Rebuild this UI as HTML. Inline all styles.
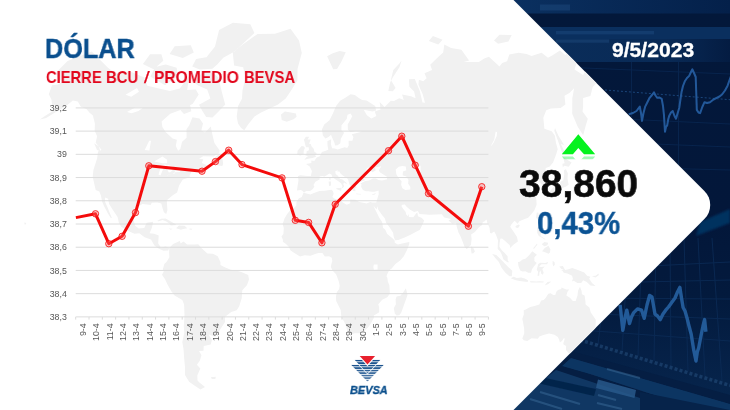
<!DOCTYPE html>
<html lang="es">
<head>
<meta charset="utf-8">
<title>Dólar - Cierre BCU / Promedio BEVSA</title>
<style>
  html, body { margin: 0; padding: 0; }
  body {
    width: 730px; height: 410px; overflow: hidden; position: relative;
    background: #03183a;
    font-family: "Liberation Sans", sans-serif;
  }
  #stage { position: absolute; left: 0; top: 0; width: 730px; height: 410px; overflow: hidden; }
  #bg { position: absolute; left: 0; top: 0; width: 730px; height: 410px; }
  #panel { position: absolute; left: 0; top: 0; width: 730px; height: 410px; }
  .txt { position: absolute; white-space: nowrap; line-height: 1; margin: 0; will-change: transform; }
  #title { left: 45.18px; top: 34.95px; font-size: 28px; font-weight: bold; color: #0a4f8e; transform-origin: 0 0; transform: scaleX(0.9025); -webkit-text-stroke: 0.45px #0a4f8e; }
  .sub { top: 69.1px; font-size: 17px; font-weight: bold; color: #e2061c; transform-origin: 0 0; }
  #w1 { left: 46.23px; transform: scaleX(0.8668); }
  #w2 { left: 106.49px; transform: scaleX(0.8739); }
  #w3 { left: 143.64px; transform: scaleX(1.1916); font-weight: normal; -webkit-text-stroke: 0.25px #e2061c; }
  #w4 { left: 154.43px; transform: scaleX(0.9179); }
  #w5 { left: 243.79px; transform: scaleX(0.8725); }
  #date { left: 611.75px; top: 40.5px; font-size: 19.5px; font-weight: bold; color: #ffffff; transform-origin: 0 0; transform: scaleX(1.0827); -webkit-text-stroke: 0.3px #ffffff; }
  #value { left: 519.23px; top: 164.1px; font-size: 39px; font-weight: bold; color: #0a0a0a; transform-origin: 0 0; transform: scaleX(0.9987); -webkit-text-stroke: 0.6px #0a0a0a; }
  #pct { left: 536.92px; top: 208.1px; font-size: 31px; font-weight: bold; color: #0b5394; transform-origin: 0 0; transform: scaleX(0.9477); -webkit-text-stroke: 0.4px #0b5394; }
  #brand { left: 349.94px; top: 385.35px; font-size: 11.5px; font-weight: bold; font-style: italic; color: #0b4f8c; transform-origin: 0 0; transform: scaleX(0.9502); -webkit-text-stroke: 0.35px #0b4f8c; }
  #chart { position: absolute; left: 0; top: 0; width: 730px; height: 410px; will-change: transform; }
  #chart text { font-family: "Liberation Sans", sans-serif; font-size: 8.8px; fill: #575757; }
</style>
</head>
<body>
<div id="stage">

<!-- dark background with market-screen look -->
<svg id="bg" width="730" height="410" viewBox="0 0 730 410">
  <defs>
    <linearGradient id="bgg" x1="0" y1="0" x2="0" y2="1">
      <stop offset="0" stop-color="#03183a"/>
      <stop offset="0.54" stop-color="#03173a"/>
      <stop offset="0.72" stop-color="#031a3d"/>
      <stop offset="0.86" stop-color="#052046"/>
      <stop offset="1" stop-color="#07264e"/>
    </linearGradient>
    <linearGradient id="fadeR" x1="0" y1="0" x2="1" y2="0">
      <stop offset="0" stop-color="#0b3161"/>
      <stop offset="1" stop-color="#04204a"/>
    </linearGradient>
    <linearGradient id="fadeR2" x1="0" y1="0" x2="1" y2="0">
      <stop offset="0" stop-color="#0a2e5b"/>
      <stop offset="0.72" stop-color="#092a56"/>
      <stop offset="1" stop-color="#041c42"/>
    </linearGradient>
    <filter id="soft" x="-5%" y="-5%" width="110%" height="110%"><feGaussianBlur stdDeviation="0.6"/></filter>
    <filter id="soft2" x="-5%" y="-5%" width="110%" height="110%"><feGaussianBlur stdDeviation="1.2"/></filter>
  </defs>
  <rect x="0" y="0" width="730" height="410" fill="url(#bgg)"/>
  <!-- top bands -->
  <rect x="500" y="0" width="230" height="13.5" fill="url(#fadeR)"/>
  <rect x="500" y="39" width="230" height="23" fill="url(#fadeR2)"/>
  <rect x="500" y="27" width="230" height="12" fill="#0a2f5e"/>
  <!-- faint header text lines -->
  <g fill="#2b5b93" opacity="0.3" filter="url(#soft)">
    <rect x="540" y="4.5" width="30" height="6"/>
    <rect x="556" y="31" width="98" height="3.4"/>
    <rect x="556" y="39.5" width="53" height="3.2"/>
  </g>
  <!-- grid (upper) -->
  <g stroke="#08244d" stroke-width="1" fill="none">
    <line x1="560" y1="67" x2="730" y2="74"/>
    <line x1="600" y1="118" x2="730" y2="124"/>
    <line x1="630" y1="143" x2="730" y2="147"/>
    <line x1="650" y1="168" x2="730" y2="170"/>
    <line x1="678.5" y1="62" x2="678.5" y2="200"/>
    <line x1="631.5" y1="62" x2="631.5" y2="117"/>
  </g>
  <line x1="605" y1="90" x2="730" y2="99.7" stroke="#1a457a" stroke-width="1" stroke-dasharray="2 2"/>
  <polyline points="628.8,114.3 633.0,113.0 636.5,111.0 639.8,106.6 641.0,113.0 642.0,120.9 643.5,113.0 645.2,106.6 647.5,102.0 649.6,97.8 652.0,95.0 654.0,92.3 655.5,95.5 657.3,97.8 659.5,97.5 661.7,98.9 663.0,106.0 663.9,114.3 665.0,131.8 666.0,127.0 667.2,125.3 668.3,119.0 669.4,115.4 671.0,112.5 672.7,111.0 674.5,116.0 676.0,118.7 677.7,113.0 679.3,107.7 680.5,99.0 681.5,92.3 683.0,86.0 684.8,81.3 687.0,78.0 689.2,75.9 691.0,72.0 692.4,69.3 694.0,73.0 695.7,77.0 696.3,94.0 696.8,109.9 698.5,112.5 700.1,113.2 702.3,107.0 704.5,102.2 707.0,103.0 710.0,102.2 713.5,99.5 716.6,97.8 719.5,96.5 722.0,94.5 725.0,90.5 727.6,85.7 731.0,76.0" fill="none" stroke="#24599a" stroke-width="2" stroke-linejoin="round" filter="url(#soft)"/>
  <!-- mid highlight band -->
  <polygon points="700,222 730,209 730,223 696,236" fill="#06305f" filter="url(#soft2)"/>
  <!-- lower screen grid -->
  <g stroke="#0c2c57" stroke-width="1" fill="none" opacity="0.8">
    <line x1="610" y1="268" x2="730" y2="262"/>
    <line x1="596" y1="283" x2="730" y2="280"/>
    <line x1="582" y1="298" x2="730" y2="299"/>
    <line x1="568" y1="313" x2="730" y2="319"/>
    <line x1="554" y1="328" x2="730" y2="341"/>
    <line x1="628" y1="250" x2="622" y2="352"/>
    <line x1="642" y1="240" x2="638" y2="356"/>
    <line x1="656" y1="238" x2="654" y2="361"/>
    <line x1="670" y1="238" x2="671" y2="366"/>
    <line x1="684" y1="238" x2="688" y2="371"/>
    <line x1="698" y1="238" x2="705" y2="376"/>
    <line x1="712" y1="238" x2="722" y2="381"/>
    <line x1="606" y1="275" x2="598" y2="345"/>
  </g>
  <polyline points="620.1,304.9 621.5,318.0 622.8,330.3 625.0,318.0 626.8,310.2 629.5,323.6 631.5,317.0 633.5,312.9 637.5,308.9 641.6,310.2 644.2,318.3 647.0,305.0 649.6,295.5 652.0,297.0 655.0,314.2 657.5,316.0 660.3,319.6 663.0,314.0 665.7,310.2 668.5,307.0 671.0,303.5 675.0,298.0 677.5,292.0 679.9,287.4 681.5,298.0 683.1,307.5 685.0,311.0 687.1,318.3 689.0,326.0 691.2,334.3 693.8,350.4 696.0,361.0 697.3,352.0 698.7,347.7 701.3,334.3 703.0,326.0 704.6,319.6 705.9,331.7" fill="none" stroke="#235a98" stroke-width="3.4" stroke-linejoin="round" filter="url(#soft)"/>
  <!-- axis numbers row (tilted) -->
  <line x1="580" y1="340" x2="730" y2="385.5" stroke="#3f73a8" stroke-width="3.5" stroke-dasharray="3 2.2" opacity="0.3" filter="url(#soft)"/>
  <!-- bottom window -->
  <polygon points="560,348 730,395 730,410 500,410" fill="#051e43"/>
  <polygon points="571,358 730,404 730,410 700,410 590,374 562,366" fill="#0f3866" opacity="0.9" filter="url(#soft)"/>
  <polygon points="556,370 640,398 640,410 505,410" fill="#123a67" opacity="0.9"/>
  <polygon points="541,377 596,389 594,396 537,383" fill="#06244a" opacity="0.9" filter="url(#soft)"/>
  <polygon points="598,379.5 636,390 634.5,398 596,388" fill="#2c5c8e" opacity="0.8" filter="url(#soft)"/>
  <polygon points="640,392 730,410 640,410" fill="#06234a"/>
  <g stroke="#41729f" stroke-width="2" opacity="0.45" filter="url(#soft)">
    <line x1="607" y1="369" x2="640" y2="378"/>
    <line x1="598" y1="395" x2="616" y2="400"/>
    <line x1="597" y1="403" x2="622" y2="409"/>
    <line x1="540" y1="392" x2="580" y2="404"/>
    <line x1="530" y1="399" x2="562" y2="409"/>
  </g>
</svg>

<!-- white panel (rotated rounded square) with world map -->
<svg id="panel" width="730" height="410" viewBox="0 0 730 410">
  <defs>
    <clipPath id="panelclip">
      <path d="M-5,-5 L508.5,-5 L704.4,190.9 A20,20 0 0 1 704.4,219.1 L508.5,415 L-5,415 Z"/>
    </clipPath>
  </defs>
  <path d="M-5,-5 L508.5,-5 L704.4,190.9 A20,20 0 0 1 704.4,219.1 L508.5,415 L-5,415 Z" fill="#ffffff"/>
  <g id="worldmap" clip-path="url(#panelclip)">
    <path fill="#f1f1f1" d="M56.1,72.6 L67.6,61.0 L91.7,51.6 L108.0,67.7 L115.0,73.2 L130.9,71.8 L144.3,77.4 L147.4,85.7 L157.9,88.3 L169.9,90.9 L179.8,88.5 L189.1,76.2 L187.2,90.0 L195.8,89.5 L198.7,94.4 L192.8,103.7 L181.1,109.7 L170.3,113.7 L161.6,121.6 L162.4,126.9 L165.8,132.3 L172.6,138.4 L176.9,139.8 L175.8,146.0 L178.1,150.8 L180.3,149.0 L182.1,141.8 L186.6,137.7 L186.5,129.2 L189.3,125.3 L192.5,117.3 L199.5,118.5 L203.0,123.4 L201.3,130.5 L205.0,132.4 L210.8,126.6 L212.6,135.6 L214.4,143.1 L219.7,150.5 L219.2,153.2 L213.5,156.4 L203.1,156.3 L199.1,158.8 L203.3,159.3 L201.8,162.9 L208.3,165.8 L209.8,167.2 L203.1,170.6 L198.2,172.9 L197.0,169.6 L191.3,172.1 L189.4,176.2 L190.4,177.0 L182.8,179.4 L179.1,185.5 L177.1,192.5 L173.1,194.9 L166.8,200.2 L167.4,210.2 L166.2,214.1 L163.9,212.3 L162.5,207.9 L161.3,203.4 L157.3,202.6 L151.8,202.7 L150.6,204.9 L146.9,204.6 L142.4,204.0 L136.3,207.7 L134.6,213.9 L133.4,219.4 L135.2,225.8 L138.7,228.6 L144.3,228.0 L146.6,222.8 L153.2,221.8 L151.8,228.1 L149.5,233.3 L154.1,233.7 L158.7,235.4 L158.2,243.5 L160.9,247.4 L165.6,246.5 L169.3,248.1 L168.2,250.4 L163.6,250.8 L159.0,248.8 L154.4,245.4 L151.0,239.4 L144.6,237.3 L139.3,233.2 L134.5,233.8 L128.2,231.0 L121.2,226.7 L118.8,222.4 L117.6,216.9 L112.9,210.0 L109.1,204.1 L108.1,198.8 L105.2,197.5 L104.9,201.6 L107.6,207.6 L110.4,214.5 L111.9,217.9 L110.6,217.8 L107.8,213.3 L104.1,206.3 L102.1,201.5 L100.9,195.4 L99.3,191.6 L95.7,189.9 L94.3,184.1 L92.7,176.8 L93.4,169.9 L97.1,158.6 L98.0,151.4 L101.5,149.9 L99.0,146.5 L95.7,142.8 L97.1,136.3 L94.7,130.7 L94.9,123.4 L92.9,115.4 L89.6,112.7 L86.7,109.2 L80.7,106.6 L77.8,101.6 L72.9,100.4 L66.7,105.6 L61.5,108.7 L53.8,113.3 L46.2,117.9 L39.9,119.5 L45.3,115.7 L53.0,111.1 L56.7,105.4 L52.2,105.2 L51.4,99.6 L48.8,94.2 L52.0,85.2 L58.0,84.4 L63.7,81.0 L57.6,79.1Z M213.2,73.0 L218.4,77.6 L221.8,91.8 L225.2,104.5 L218.8,111.2 L212.5,117.6 L206.2,116.9 L202.4,110.9 L199.0,104.7 L210.4,98.4 L207.2,89.4 L198.1,85.4 L193.6,82.1 L203.1,71.8Z M150.3,76.4 L165.0,85.2 L177.8,75.9 L176.7,67.7 L165.7,64.5 L155.3,67.0Z M142.9,64.0 L153.6,69.3 L163.3,60.8 L161.4,54.2 L150.1,54.3Z M205.3,58.8 L217.2,64.6 L223.3,57.7 L234.5,51.6 L254.4,33.1 L250.3,24.2 L232.9,22.8 L219.1,30.1 L215.0,46.4Z M169.6,53.9 L182.8,58.1 L193.8,52.6 L190.8,45.2 L174.7,46.2Z M192.2,66.4 L199.8,69.4 L212.4,68.7 L217.2,64.6 L206.1,57.3 L196.1,59.1Z M212.3,162.9 L218.0,165.5 L222.3,166.0 L223.2,163.7 L222.5,159.3 L219.0,157.3 L220.1,153.3 L216.5,155.8Z M232.8,52.4 L243.1,44.2 L257.6,33.9 L275.0,33.8 L290.5,28.7 L299.0,40.4 L301.8,53.1 L297.5,68.9 L297.4,80.6 L290.8,90.9 L285.7,98.5 L278.0,104.5 L269.0,108.7 L260.6,112.7 L254.5,116.4 L248.3,124.2 L244.3,130.3 L241.1,127.9 L238.0,123.5 L236.7,116.6 L238.1,106.0 L242.0,98.7 L242.5,90.5 L245.4,77.5 L243.2,67.3 L234.1,65.6Z M281.0,114.6 L284.9,111.6 L290.8,112.6 L295.9,113.4 L296.6,116.8 L293.6,119.3 L286.7,121.7 L281.7,119.9Z M169.3,248.1 L173.1,244.1 L179.8,241.1 L180.6,243.5 L183.5,241.6 L187.1,244.5 L194.6,244.6 L198.3,244.2 L201.9,248.5 L207.4,253.4 L213.0,253.8 L217.7,256.3 L220.4,262.1 L220.4,265.0 L224.2,266.9 L230.7,269.8 L236.4,270.6 L242.0,272.3 L248.2,275.0 L249.0,279.5 L246.9,285.3 L242.3,290.2 L241.7,298.2 L239.2,306.2 L236.7,310.3 L231.2,312.0 L225.1,316.7 L225.0,322.0 L221.4,327.4 L217.5,334.1 L215.1,336.4 L211.3,335.4 L208.5,334.3 L211.9,339.9 L210.7,344.5 L203.7,345.9 L203.5,350.7 L199.0,350.9 L201.5,355.2 L199.8,360.8 L196.9,364.8 L200.3,368.5 L197.3,375.4 L197.5,380.4 L199.1,382.3 L205.0,387.0 L200.5,389.5 L194.4,385.6 L189.1,381.7 L185.0,374.9 L185.0,366.8 L184.1,357.8 L183.5,349.1 L182.3,342.0 L184.3,332.7 L183.8,326.0 L184.5,315.1 L184.1,304.6 L182.3,300.1 L174.6,295.5 L171.5,291.5 L167.5,284.5 L164.9,279.0 L162.0,274.7 L163.8,271.6 L162.8,269.4 L164.3,264.0 L166.5,262.1 L169.4,257.3 L169.1,252.4Z M297.0,190.4 L297.5,186.6 L298.5,180.3 L297.9,176.3 L300.0,175.2 L307.4,175.9 L310.9,175.9 L311.9,170.9 L309.7,166.6 L306.0,163.9 L311.4,163.1 L311.3,160.6 L314.3,161.1 L316.7,157.6 L319.9,156.3 L321.9,152.1 L325.7,150.8 L328.3,149.7 L327.5,145.3 L327.4,141.2 L331.2,139.2 L330.9,143.9 L332.1,148.3 L334.8,148.5 L337.6,149.5 L344.7,147.3 L347.2,148.0 L348.7,145.5 L348.6,140.8 L352.4,140.7 L353.4,136.9 L351.8,134.3 L358.9,132.6 L362.3,131.5 L355.5,130.9 L350.7,132.3 L347.9,129.7 L347.7,124.4 L352.3,116.2 L350.5,113.5 L347.5,114.7 L346.8,118.7 L341.5,125.3 L341.4,130.2 L344.1,132.8 L340.8,138.7 L340.3,143.2 L337.6,145.2 L335.1,145.5 L334.5,143.0 L332.1,137.4 L331.0,134.8 L328.5,136.9 L325.4,138.4 L322.9,135.5 L321.9,129.6 L324.2,124.4 L329.5,120.2 L332.9,113.5 L336.2,105.7 L340.2,100.8 L345.7,97.5 L350.6,94.2 L354.8,95.1 L358.8,97.9 L362.1,100.0 L366.6,100.4 L375.2,106.0 L376.1,110.6 L372.4,111.5 L366.1,110.2 L363.7,109.7 L366.9,115.3 L371.3,118.4 L376.4,116.0 L374.7,111.4 L380.5,109.5 L379.7,101.9 L384.6,107.0 L390.8,100.7 L394.0,101.1 L399.3,98.2 L403.7,100.0 L402.1,94.6 L411.0,96.2 L415.6,98.3 L414.1,91.6 L409.4,86.8 L408.9,79.2 L414.8,79.1 L419.7,90.7 L422.5,102.4 L425.0,102.8 L422.8,94.4 L418.4,84.4 L418.9,79.7 L423.2,81.2 L426.6,78.2 L424.5,73.3 L432.1,70.1 L430.2,64.7 L438.2,57.0 L443.2,52.6 L444.3,44.6 L451.1,48.1 L461.4,49.7 L469.1,60.5 L463.6,62.1 L469.3,62.1 L478.9,61.9 L484.2,58.5 L488.9,56.8 L499.5,66.6 L502.2,62.9 L507.1,61.2 L509.3,54.4 L518.6,52.8 L526.6,54.1 L531.5,56.0 L541.6,52.7 L548.0,57.7 L552.6,55.3 L559.9,50.4 L565.5,55.3 L569.1,47.9 L577.9,49.6 L577.8,59.3 L574.5,69.5 L583.1,75.0 L587.3,67.8 L591.0,70.6 L589.6,72.8 L598.5,80.9 L592.7,86.9 L590.4,96.0 L583.1,97.9 L583.1,107.0 L582.5,111.5 L587.8,118.8 L585.5,126.4 L583.2,135.2 L577.7,126.7 L572.2,113.8 L572.3,98.4 L574.1,88.3 L569.4,93.0 L564.5,95.8 L565.4,104.6 L560.6,107.9 L550.8,108.4 L546.3,110.2 L543.3,117.7 L544.4,128.8 L551.7,131.3 L554.8,135.4 L556.0,142.9 L557.7,149.3 L556.2,154.3 L553.1,162.4 L549.7,166.6 L545.8,168.1 L545.1,172.4 L542.0,176.3 L544.8,180.2 L547.5,184.0 L547.3,187.5 L543.2,189.8 L541.7,184.4 L538.6,181.1 L537.0,176.1 L531.9,178.4 L529.8,173.6 L525.2,178.8 L527.4,182.4 L534.3,182.7 L531.0,186.3 L529.7,189.0 L535.7,196.2 L536.4,199.9 L536.6,204.7 L534.3,210.6 L531.5,214.1 L528.2,217.8 L524.7,219.0 L519.3,221.3 L517.7,223.7 L514.6,220.7 L511.3,224.5 L510.2,226.7 L513.8,231.9 L517.0,237.1 L517.9,241.6 L513.7,244.5 L510.1,247.9 L509.8,245.3 L505.1,240.9 L502.0,238.4 L500.3,238.7 L499.6,243.3 L499.4,246.8 L501.8,250.3 L504.7,252.9 L507.6,256.3 L507.7,260.2 L509.0,262.3 L507.5,262.3 L503.5,259.6 L501.6,254.3 L500.2,251.5 L497.7,249.0 L497.8,244.4 L498.0,240.3 L495.9,234.6 L494.2,231.5 L491.2,233.6 L490.0,232.8 L489.6,228.0 L487.3,222.8 L486.6,219.6 L485.6,220.2 L484.3,221.4 L482.8,222.0 L482.1,225.0 L479.1,227.1 L474.9,231.9 L471.1,234.4 L471.6,239.1 L470.9,244.9 L468.0,247.7 L466.8,249.2 L464.4,246.5 L462.8,242.1 L460.6,236.5 L458.5,232.5 L456.8,227.0 L456.1,222.8 L452.3,223.7 L448.5,220.6 L451.4,219.1 L444.2,217.5 L441.8,214.3 L429.4,214.7 L419.5,214.0 L417.9,211.0 L414.2,211.9 L410.1,209.8 L406.4,206.5 L404.9,204.4 L402.2,204.8 L401.4,205.9 L402.9,208.5 L405.7,212.0 L406.1,214.3 L407.7,216.2 L408.4,213.7 L408.9,217.0 L413.3,217.2 L416.1,213.6 L417.3,212.5 L418.0,216.3 L421.8,218.1 L424.2,220.4 L422.5,224.5 L421.0,227.6 L419.7,230.0 L416.1,231.7 L411.0,234.5 L405.2,237.3 L398.2,240.1 L395.0,240.3 L393.6,236.2 L393.1,232.8 L389.9,227.8 L386.1,222.8 L384.8,218.3 L382.2,215.2 L378.2,209.4 L377.3,206.2 L376.6,209.6 L373.3,205.4 L372.5,202.5 L376.2,202.4 L377.2,199.2 L378.7,194.3 L378.6,190.5 L374.5,191.7 L371.6,191.8 L368.6,191.2 L365.9,191.2 L362.9,190.1 L361.1,186.8 L361.5,184.5 L360.4,183.4 L365.2,181.0 L369.2,180.5 L372.9,178.5 L375.9,178.4 L378.4,180.0 L382.0,180.6 L387.1,179.3 L386.9,176.7 L383.4,174.4 L380.2,172.4 L378.8,170.5 L381.3,166.2 L374.9,167.6 L375.7,170.6 L372.4,172.3 L370.4,170.2 L372.2,168.5 L368.8,167.6 L367.1,168.1 L365.4,171.1 L364.0,174.7 L363.0,177.5 L364.9,180.3 L360.1,182.0 L356.4,181.6 L355.6,183.0 L354.1,182.6 L355.3,185.3 L356.7,187.5 L355.0,188.2 L355.5,191.3 L354.0,191.1 L352.8,190.7 L351.7,187.6 L349.4,184.2 L348.2,180.1 L347.4,178.5 L342.8,175.5 L340.5,173.6 L339.2,171.3 L337.6,171.8 L337.7,170.3 L335.3,171.3 L335.6,173.9 L337.9,175.8 L340.0,179.0 L342.1,179.3 L346.7,183.1 L346.6,184.0 L344.0,182.5 L343.2,184.3 L344.3,185.9 L342.8,188.1 L341.9,188.1 L342.4,185.9 L341.0,183.2 L338.7,181.6 L335.6,179.5 L332.4,177.0 L331.4,174.4 L329.3,173.5 L327.1,174.9 L324.5,176.6 L322.2,175.9 L319.6,176.4 L319.6,179.4 L315.4,181.7 L313.5,184.9 L314.4,186.5 L312.8,189.1 L310.1,190.9 L306.1,191.1 L304.0,192.7 L302.6,190.9 L300.8,190.0Z M373.3,205.4 L372.5,202.5 L370.2,202.1 L366.6,203.4 L359.3,202.0 L355.5,199.8 L350.1,199.5 L350.3,203.3 L346.7,204.8 L342.1,202.1 L341.1,200.4 L334.7,198.7 L332.4,197.0 L333.7,193.7 L332.8,190.9 L331.5,189.8 L324.7,190.7 L319.4,190.9 L314.0,193.1 L310.4,194.6 L304.5,193.1 L303.4,193.1 L301.8,197.0 L298.7,198.5 L296.4,202.3 L296.4,205.5 L293.0,209.1 L290.3,210.3 L287.5,213.4 L284.6,218.3 L282.6,224.0 L283.8,228.0 L283.4,233.9 L281.5,236.5 L282.9,239.8 L282.9,241.8 L286.0,244.1 L288.8,246.7 L290.6,250.5 L294.4,252.9 L300.0,256.5 L304.7,255.2 L310.3,255.8 L315.9,253.8 L318.7,252.9 L322.4,253.0 L324.8,256.5 L329.0,256.3 L331.8,257.7 L332.3,261.1 L331.4,264.0 L330.8,266.9 L332.7,270.8 L336.1,274.2 L337.0,276.6 L338.8,281.4 L339.7,285.7 L339.1,289.2 L336.9,292.1 L335.9,297.1 L336.2,301.0 L338.7,306.0 L340.7,310.1 L341.4,317.2 L344.1,321.6 L346.3,326.7 L347.1,329.9 L347.1,333.5 L349.9,334.9 L354.5,333.2 L360.3,333.2 L363.6,331.5 L368.4,326.9 L371.4,322.6 L374.0,317.4 L373.8,315.4 L379.2,312.3 L379.1,307.2 L378.3,304.2 L382.2,299.8 L387.3,297.2 L389.9,293.8 L389.6,289.3 L389.4,285.3 L387.8,281.4 L387.4,278.1 L386.5,276.2 L387.3,274.1 L389.2,270.2 L391.7,268.5 L395.4,264.0 L400.1,260.6 L403.8,256.3 L407.0,249.9 L409.1,244.6 L409.4,242.1 L404.4,243.1 L397.9,244.6 L394.7,242.7 L394.7,240.7 L393.1,238.8 L389.3,235.8 L387.0,233.8 L385.3,229.8 L383.0,227.8 L382.5,223.8 L382.0,221.8 L379.4,217.9 L377.2,213.6 L375.3,209.8Z M405.9,288.3 L407.5,294.9 L406.4,298.3 L404.2,304.3 L401.3,312.5 L399.3,315.2 L396.5,315.6 L394.8,313.5 L393.8,308.3 L395.9,304.3 L395.6,299.2 L396.6,296.6 L400.4,295.8 L403.3,292.3Z M304.3,159.8 L308.1,158.8 L312.3,158.1 L316.2,156.8 L315.2,155.8 L316.8,152.9 L314.5,152.1 L313.7,148.7 L311.5,146.2 L310.7,144.0 L309.1,143.8 L310.7,139.6 L307.5,139.6 L309.2,136.7 L305.9,136.7 L303.9,139.8 L304.7,142.6 L305.4,145.4 L306.1,147.3 L308.7,147.3 L309.0,150.3 L306.7,151.3 L306.5,153.4 L305.2,155.2 L308.1,156.3 L306.4,157.3Z M297.2,154.7 L297.6,150.7 L299.9,148.1 L301.6,145.9 L304.1,146.5 L304.9,148.1 L303.7,150.8 L303.6,154.2 L300.5,155.5Z M552.0,197.2 L553.6,192.8 L554.4,190.2 L558.7,188.6 L562.2,187.9 L565.7,186.8 L568.6,184.8 L567.5,178.5 L567.9,173.3 L565.9,169.2 L563.9,170.2 L564.3,174.5 L563.3,180.2 L560.5,181.8 L559.7,184.6 L554.5,186.2 L551.4,189.3 L549.8,192.2Z M562.8,167.4 L564.2,165.8 L568.7,166.8 L571.6,162.6 L568.8,160.7 L563.1,157.0 L564.6,163.3 L562.4,163.8Z M562.9,155.1 L564.5,151.7 L560.9,143.9 L564.1,145.1 L558.3,135.6 L555.0,128.1 L554.3,130.8 L558.6,142.5Z M536.0,217.4 L536.8,212.4 L538.6,212.8 L538.2,217.4 L537.4,219.6Z M515.5,225.9 L518.7,224.4 L519.8,225.4 L518.1,228.0 L515.7,227.4Z M471.0,246.3 L473.7,248.4 L474.9,251.4 L473.4,253.2 L471.6,253.4 L470.9,249.4Z M537.3,227.4 L540.9,227.5 L541.2,231.6 L540.5,235.9 L545.2,239.0 L545.2,239.8 L541.3,237.3 L538.8,236.1 L537.2,232.7Z M542.1,251.3 L544.7,248.0 L548.4,245.8 L550.4,249.2 L550.0,252.4 L548.5,253.8 L545.8,252.5Z M541.7,244.2 L544.4,242.1 L548.2,242.7 L547.4,245.2 L544.3,246.2Z M533.0,248.5 L537.0,243.6 L537.3,244.8 L534.1,248.7Z M492.2,254.1 L496.3,254.9 L501.7,260.2 L507.7,266.5 L512.3,270.8 L511.8,276.3 L509.4,276.3 L505.4,272.8 L501.7,267.9 L498.7,261.7 L495.5,258.2Z M510.7,278.3 L513.5,276.7 L516.8,277.9 L521.2,277.5 L524.7,278.5 L528.0,280.3 L527.7,282.1 L521.4,281.3 L515.8,280.3Z M518.0,262.1 L519.8,261.7 L522.6,259.6 L525.4,258.8 L529.1,255.3 L532.3,251.3 L536.9,254.7 L534.4,257.2 L534.4,261.1 L536.7,263.1 L533.9,266.5 L532.0,269.3 L531.0,272.8 L528.2,272.8 L525.4,271.2 L522.6,271.4 L520.2,270.4 L518.4,266.0Z M537.5,275.7 L538.1,271.8 L536.7,269.8 L538.2,264.0 L540.4,262.7 L545.1,263.1 L548.3,261.9 L547.0,264.2 L541.4,264.2 L539.1,266.7 L541.4,266.9 L544.7,266.5 L542.3,268.9 L543.7,272.8 L542.7,274.8 L541.3,273.8 L540.4,270.2 L539.4,272.8 L539.2,275.7Z M559.2,266.5 L562.9,266.0 L565.1,269.9 L568.5,269.3 L572.2,268.1 L577.8,270.1 L584.3,272.4 L587.1,275.8 L590.4,276.8 L589.2,278.8 L592.0,283.0 L595.6,286.1 L590.4,285.5 L586.8,281.9 L583.2,280.3 L581.2,282.9 L577.4,283.1 L573.8,280.8 L571.9,281.4 L572.9,278.8 L572.1,275.8 L567.5,273.6 L563.8,272.8 L562.5,270.8 L561.0,270.4 L563.8,269.5 L561.4,268.9Z M544.6,285.4 L547.5,282.0 L551.3,281.6 L548.4,284.0Z M529.8,281.3 L532.6,281.3 L536.3,281.5 L539.2,281.3 L543.8,281.4 L543.4,282.4 L536.3,282.5 L530.7,282.5Z M552.6,261.1 L554.5,262.1 L554.9,264.4 L553.5,266.5 L552.6,264.0Z M591.7,276.0 L595.5,275.8 L598.7,273.4 L598.7,275.2 L595.4,277.4 L591.7,276.0Z M523.8,310.1 L525.2,309.7 L530.3,306.9 L534.5,305.9 L539.3,304.4 L541.2,300.5 L543.7,300.1 L545.6,298.0 L548.3,293.8 L550.6,293.2 L553.3,294.9 L555.3,295.1 L556.3,291.7 L558.0,289.9 L561.2,289.0 L561.5,287.6 L566.2,289.5 L569.2,289.5 L567.5,291.8 L566.3,295.5 L569.9,297.7 L572.9,301.0 L575.7,301.0 L577.5,295.6 L578.1,290.4 L580.0,286.7 L581.6,290.9 L581.9,294.3 L584.6,295.4 L585.4,301.2 L585.6,304.6 L589.4,307.4 L590.7,312.3 L592.7,315.2 L595.8,319.7 L595.6,325.2 L595.6,328.5 L593.6,334.2 L590.8,338.8 L588.7,341.9 L585.6,347.3 L584.3,351.4 L580.3,352.2 L576.5,355.1 L574.6,352.9 L571.5,354.1 L568.2,352.7 L566.0,350.0 L566.1,345.9 L563.6,344.4 L563.3,343.3 L564.7,339.1 L564.1,337.8 L562.2,340.8 L559.9,342.5 L559.1,339.6 L557.8,336.9 L554.5,334.7 L549.1,333.4 L543.3,334.9 L539.3,336.5 L537.9,338.7 L531.5,338.3 L527.3,340.9 L523.8,340.2 L522.3,338.6 L524.3,333.3 L524.1,328.5 L523.1,322.5 L522.3,319.0 L523.8,314.5Z M572.3,359.7 L575.2,361.1 L578.6,360.9 L576.8,365.5 L574.1,368.3 L572.3,368.1 L572.0,364.1Z M627.9,345.8 L630.1,349.3 L631.4,353.0 L631.6,355.8 L635.3,356.2 L635.1,359.0 L631.8,361.9 L630.6,365.0 L626.8,368.2 L626.0,367.1 L627.7,363.0 L626.2,360.6 L628.9,356.8 L629.9,352.3 L628.1,347.6Z M623.1,364.1 L625.2,366.7 L621.3,372.2 L617.3,375.8 L614.3,380.9 L611.0,383.3 L608.6,382.2 L606.6,379.8 L611.0,374.9 L617.0,371.0 L621.4,365.6Z M327.1,56.3 L332.8,53.2 L339.6,51.0 L345.8,52.2 L341.2,62.1 L337.0,69.0 L333.2,69.2Z M388.3,91.1 L392.8,91.3 L395.6,88.0 L390.9,79.9 L393.3,69.9 L399.4,63.6 L401.6,60.5 L399.4,67.3 L392.9,77.3 L390.2,82.2Z M428.8,41.0 L432.9,36.1 L442.6,39.7 L438.3,44.6Z M494.0,40.6 L499.4,34.7 L511.7,35.1 L508.4,41.6 L498.1,43.8Z M157.0,221.0 L161.0,218.8 L165.6,218.6 L171.8,221.9 L176.7,224.9 L170.6,225.4 L169.8,223.7 L166.3,221.6 L162.7,220.1 L158.9,221.3Z M176.1,228.2 L178.9,225.5 L184.5,225.8 L187.3,228.3 L183.3,229.0 L181.0,229.8Z M168.8,228.5 L172.5,228.7 L170.8,229.8Z M189.5,228.5 L192.4,228.7 L191.6,229.7 L189.4,229.5Z M336.2,188.2 L341.6,187.7 L341.2,191.0 L336.3,189.1Z M328.6,181.4 L331.1,181.4 L331.0,185.5 L329.1,186.0Z M329.1,178.0 L330.6,176.8 L330.5,180.3 L329.5,180.1Z M356.1,193.5 L361.2,194.1 L360.7,194.6 L356.4,194.2Z M372.0,194.4 L375.9,193.0 L374.9,194.6 L372.6,195.1Z M94.1,143.2 L99.0,146.5 L100.2,151.3 L97.0,150.0Z M567.6,40.2 L566.0,37.2 L566.3,40.8 L570.5,40.3Z M24.6,222.3 L26.4,223.3 L25.0,225.1 L24.4,223.7Z M553.9,190.5 L558.1,189.4 L558.0,191.5 L555.5,193.2Z M210.7,377.3 L215.8,376.7 L215.3,378.9 L211.9,379.1Z M184.1,104.3 L189.7,103.2 L191.3,111.2 L184.0,113.9 L180.7,110.4Z"/>
    <path fill="#ffffff" d="M395.7,169.4 L398.8,166.8 L402.2,165.9 L405.8,166.5 L406.3,170.2 L403.0,171.6 L402.6,175.3 L406.3,176.4 L408.5,179.9 L408.1,183.4 L410.3,186.8 L410.3,189.4 L405.3,190.0 L402.4,188.2 L401.1,184.8 L401.6,181.3 L398.5,177.8 L396.3,174.3Z M373.9,264.4 L377.6,264.6 L377.6,269.4 L373.9,269.8 L373.3,266.9Z M154.2,161.5 L162.5,156.6 L167.1,159.8 L167.2,163.3 L162.7,163.3 L156.8,162.0Z M158.5,174.6 L161.3,165.6 L165.1,164.5 L166.7,165.4 L168.6,165.0 L172.7,166.4 L174.0,169.1 L170.3,172.2 L168.8,172.6 L167.5,170.0 L166.5,166.5 L164.5,167.1 L162.3,170.9 L160.5,175.5Z M166.7,175.6 L174.9,173.5 L174.2,172.2 L180.0,172.0 L180.4,170.2 L175.4,170.7 L173.0,174.1 L167.4,175.1Z M491.1,146.2 L493.6,142.8 L496.7,136.0 L497.1,132.0 L495.6,131.8 L494.3,139.6 L491.5,144.7Z M416.0,172.3 L417.1,166.0 L420.6,165.8 L420.6,171.3 L418.3,173.2Z M144.7,150.1 L149.2,140.8 L151.0,140.7 L149.4,150.6Z M125.5,94.7 L137.0,88.0 L139.0,91.7 L131.2,96.8Z M127.0,112.0 L135.2,107.5 L143.0,107.8 L138.4,111.0 L131.6,113.3Z"/>
  </g>
</svg>

<svg id="chart" width="730" height="410" viewBox="0 0 730 410">
  <g stroke="#dcdcdc" stroke-width="1" fill="none">
    <line x1="75.7" y1="107.90" x2="488.4" y2="107.90"/>
    <line x1="75.7" y1="131.12" x2="488.4" y2="131.12"/>
    <line x1="75.7" y1="154.34" x2="488.4" y2="154.34"/>
    <line x1="75.7" y1="177.56" x2="488.4" y2="177.56"/>
    <line x1="75.7" y1="200.78" x2="488.4" y2="200.78"/>
    <line x1="75.7" y1="224.00" x2="488.4" y2="224.00"/>
    <line x1="75.7" y1="247.22" x2="488.4" y2="247.22"/>
    <line x1="75.7" y1="270.44" x2="488.4" y2="270.44"/>
    <line x1="75.7" y1="293.66" x2="488.4" y2="293.66"/>
    <line x1="75.7" y1="316.88" x2="488.4" y2="316.88"/>
    <line x1="75.70" y1="316.9" x2="75.70" y2="319.6"/>
    <line x1="89.01" y1="316.9" x2="89.01" y2="319.6"/>
    <line x1="102.33" y1="316.9" x2="102.33" y2="319.6"/>
    <line x1="115.64" y1="316.9" x2="115.64" y2="319.6"/>
    <line x1="128.95" y1="316.9" x2="128.95" y2="319.6"/>
    <line x1="142.26" y1="316.9" x2="142.26" y2="319.6"/>
    <line x1="155.58" y1="316.9" x2="155.58" y2="319.6"/>
    <line x1="168.89" y1="316.9" x2="168.89" y2="319.6"/>
    <line x1="182.20" y1="316.9" x2="182.20" y2="319.6"/>
    <line x1="195.52" y1="316.9" x2="195.52" y2="319.6"/>
    <line x1="208.83" y1="316.9" x2="208.83" y2="319.6"/>
    <line x1="222.14" y1="316.9" x2="222.14" y2="319.6"/>
    <line x1="235.45" y1="316.9" x2="235.45" y2="319.6"/>
    <line x1="248.77" y1="316.9" x2="248.77" y2="319.6"/>
    <line x1="262.08" y1="316.9" x2="262.08" y2="319.6"/>
    <line x1="275.39" y1="316.9" x2="275.39" y2="319.6"/>
    <line x1="288.71" y1="316.9" x2="288.71" y2="319.6"/>
    <line x1="302.02" y1="316.9" x2="302.02" y2="319.6"/>
    <line x1="315.33" y1="316.9" x2="315.33" y2="319.6"/>
    <line x1="328.65" y1="316.9" x2="328.65" y2="319.6"/>
    <line x1="341.96" y1="316.9" x2="341.96" y2="319.6"/>
    <line x1="355.27" y1="316.9" x2="355.27" y2="319.6"/>
    <line x1="368.58" y1="316.9" x2="368.58" y2="319.6"/>
    <line x1="381.90" y1="316.9" x2="381.90" y2="319.6"/>
    <line x1="395.21" y1="316.9" x2="395.21" y2="319.6"/>
    <line x1="408.52" y1="316.9" x2="408.52" y2="319.6"/>
    <line x1="421.84" y1="316.9" x2="421.84" y2="319.6"/>
    <line x1="435.15" y1="316.9" x2="435.15" y2="319.6"/>
    <line x1="448.46" y1="316.9" x2="448.46" y2="319.6"/>
    <line x1="461.77" y1="316.9" x2="461.77" y2="319.6"/>
    <line x1="475.09" y1="316.9" x2="475.09" y2="319.6"/>
    <line x1="488.40" y1="316.9" x2="488.40" y2="319.6"/>
  </g>
  <g text-anchor="end">
    <text x="66.8" y="111.00">39,2</text>
    <text x="66.8" y="134.22">39,1</text>
    <text x="66.8" y="157.44">39</text>
    <text x="66.8" y="180.66">38,9</text>
    <text x="66.8" y="203.88">38,8</text>
    <text x="66.8" y="227.10">38,7</text>
    <text x="66.8" y="250.32">38,6</text>
    <text x="66.8" y="273.54">38,5</text>
    <text x="66.8" y="296.76">38,4</text>
    <text x="66.8" y="319.98">38,3</text>
  </g>
  <g text-anchor="end">
    <text transform="translate(86.06 323.4) rotate(-90)">9-4</text>
    <text transform="translate(99.37 323.4) rotate(-90)">10-4</text>
    <text transform="translate(112.68 323.4) rotate(-90)">11-4</text>
    <text transform="translate(126.00 323.4) rotate(-90)">12-4</text>
    <text transform="translate(139.31 323.4) rotate(-90)">13-4</text>
    <text transform="translate(152.62 323.4) rotate(-90)">14-4</text>
    <text transform="translate(165.93 323.4) rotate(-90)">15-4</text>
    <text transform="translate(179.25 323.4) rotate(-90)">16-4</text>
    <text transform="translate(192.56 323.4) rotate(-90)">17-4</text>
    <text transform="translate(205.87 323.4) rotate(-90)">18-4</text>
    <text transform="translate(219.19 323.4) rotate(-90)">19-4</text>
    <text transform="translate(232.50 323.4) rotate(-90)">20-4</text>
    <text transform="translate(245.81 323.4) rotate(-90)">21-4</text>
    <text transform="translate(259.12 323.4) rotate(-90)">22-4</text>
    <text transform="translate(272.44 323.4) rotate(-90)">23-4</text>
    <text transform="translate(285.75 323.4) rotate(-90)">24-4</text>
    <text transform="translate(299.06 323.4) rotate(-90)">25-4</text>
    <text transform="translate(312.38 323.4) rotate(-90)">26-4</text>
    <text transform="translate(325.69 323.4) rotate(-90)">27-4</text>
    <text transform="translate(339.00 323.4) rotate(-90)">28-4</text>
    <text transform="translate(352.31 323.4) rotate(-90)">29-4</text>
    <text transform="translate(365.63 323.4) rotate(-90)">30-4</text>
    <text transform="translate(378.94 323.4) rotate(-90)">1-5</text>
    <text transform="translate(392.25 323.4) rotate(-90)">2-5</text>
    <text transform="translate(405.57 323.4) rotate(-90)">3-5</text>
    <text transform="translate(418.88 323.4) rotate(-90)">4-5</text>
    <text transform="translate(432.19 323.4) rotate(-90)">5-5</text>
    <text transform="translate(445.50 323.4) rotate(-90)">6-5</text>
    <text transform="translate(458.82 323.4) rotate(-90)">7-5</text>
    <text transform="translate(472.13 323.4) rotate(-90)">8-5</text>
    <text transform="translate(485.44 323.4) rotate(-90)">9-5</text>
  </g>
  <path d="M75.9,217.6 L95.5,213.8 L108.8,243.7 L122.1,236.3 L135.5,212.6 L148.8,165.8 L202.0,171.2 L215.4,161.6 L228.7,150.2 L242.0,164.6 L282.0,177.9 L295.3,220.3 L308.6,222.4 L321.9,242.8 L335.2,204.3 L388.5,150.7 L401.8,136.2 L415.2,165.2 L428.5,193.5 L468.4,226.2 L481.8,186.7" fill="none" stroke="#f40b0b" stroke-width="3" stroke-linejoin="round" stroke-linecap="butt"/>
  <g fill="#ff6a6a" fill-opacity="0.35" stroke="#f40b0b" stroke-width="0.8">
    <circle cx="95.5" cy="213.8" r="3.2"/>
    <circle cx="108.8" cy="243.7" r="3.2"/>
    <circle cx="122.1" cy="236.3" r="3.2"/>
    <circle cx="135.5" cy="212.6" r="3.2"/>
    <circle cx="148.8" cy="165.8" r="3.2"/>
    <circle cx="202.0" cy="171.2" r="3.2"/>
    <circle cx="215.4" cy="161.6" r="3.2"/>
    <circle cx="228.7" cy="150.2" r="3.2"/>
    <circle cx="242.0" cy="164.6" r="3.2"/>
    <circle cx="282.0" cy="177.9" r="3.2"/>
    <circle cx="295.3" cy="220.3" r="3.2"/>
    <circle cx="308.6" cy="222.4" r="3.2"/>
    <circle cx="321.9" cy="242.8" r="3.2"/>
    <circle cx="335.2" cy="204.3" r="3.2"/>
    <circle cx="388.5" cy="150.7" r="3.2"/>
    <circle cx="401.8" cy="136.2" r="3.2"/>
    <circle cx="415.2" cy="165.2" r="3.2"/>
    <circle cx="428.5" cy="193.5" r="3.2"/>
    <circle cx="468.4" cy="226.2" r="3.2"/>
    <circle cx="481.8" cy="186.7" r="3.2"/>
  </g>
</svg>

<svg id="fg" width="730" height="410" viewBox="0 0 730 410" style="position:absolute;left:0;top:0">
  <defs>
    <linearGradient id="refl" x1="0" y1="0" x2="0" y2="1">
      <stop offset="0" stop-color="#19f04a" stop-opacity="0.42"/>
      <stop offset="1" stop-color="#19f04a" stop-opacity="0.12"/>
    </linearGradient>
    <clipPath id="reflclip"><rect x="555" y="155.4" width="50" height="3.8"/></clipPath>
    <pattern id="stripes" x="0" y="359.75" width="40" height="2.5" patternUnits="userSpaceOnUse">
      <rect x="0" y="0" width="40" height="1.65" fill="#164f8b"/>
    </pattern>
    <linearGradient id="logofade" x1="0" y1="0" x2="0" y2="1">
      <stop offset="0" stop-color="#ffffff" stop-opacity="0"/>
      <stop offset="1" stop-color="#ffffff" stop-opacity="0.3"/>
    </linearGradient>
  </defs>
  <!-- green up arrow -->
  <polygon points="578.3,134.2 595.2,154.2 584.0,154.2 578.3,147.9 572.9,154.2 561.8,154.2" fill="#05f21f"/>
  <g clip-path="url(#reflclip)">
    <polygon points="578.3,176.4 595.2,156.4 584.0,156.4 578.3,162.7 572.9,156.4 561.8,156.4" fill="url(#refl)"/>
  </g>
  <!-- BEVSA logo -->
  <g id="logo">
    <rect x="346" y="352" width="44" height="48" fill="#ffffff"/>
    <!-- inner striped triangle -->
    <polygon points="354.6,359.8 380.4,359.8 367.5,373.6" fill="url(#stripes)"/>
    <!-- outer chevron -->
    <polygon points="351.1,364.8 358.3,364.8 367.5,374.6 376.7,364.8 383.9,364.8 367.5,381.6" fill="url(#stripes)"/>
    <polygon points="351.1,364.8 383.9,364.8 367.5,381.6" fill="url(#logofade)"/>
    <!-- white outline + red triangle -->
    <polygon points="357.6,355.0 377.4,355.0 367.5,366.2" fill="#ffffff"/>
    <polygon points="359.7,355.9 375.1,355.9 367.5,364.4" fill="#e8202d"/>
  </g>
</svg>

<div class="txt" id="title">DÓLAR</div>
<div class="txt sub" id="w1">CIERRE</div>
<div class="txt sub" id="w2">BCU</div>
<div class="txt sub" id="w3">/</div>
<div class="txt sub" id="w4">PROMEDIO</div>
<div class="txt sub" id="w5">BEVSA</div>
<div class="txt" id="date">9/5/2023</div>
<div class="txt" id="value">38,860</div>
<div class="txt" id="pct">0,43%</div>
<div class="txt" id="brand">BEVSA</div>

</div>
</body>
</html>
